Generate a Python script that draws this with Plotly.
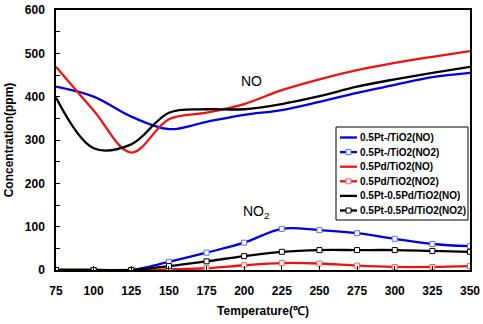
import plotly.graph_objects as go

# Temperature axis (deg C)
temperature = [75, 100, 125, 150, 175, 200, 225, 250, 275, 300, 325, 350]

# NO concentration (ppm)
pt_no = [423, 400, 354, 325, 342, 358, 369, 388, 409, 427, 445, 455]
pd_no = [469, 368, 271, 348, 363, 383, 415, 440, 461, 478, 492, 505]
ptpd_no = [398, 281, 290, 363, 371, 371, 383, 401, 423, 440, 455, 469]

# NO2 concentration (ppm)
pt_no2 = [0, 0, 0, 19, 40, 63, 95, 92, 85, 72, 60, 55]
pd_no2 = [0, 0, 0, 1.5, 4, 11, 16, 15, 10, 7, 7, 9]
ptpd_no2 = [0, 0, 0, 9, 20, 32, 42, 46, 46, 46, 44, 42]

names = ["0.5Pt-/TiO2(NO)", "0.5Pt-/TiO2(NO2)", "0.5Pd/TiO2(NO)",
         "0.5Pd/TiO2(NO2)", "0.5Pt-0.5Pd/TiO2(NO)", "0.5Pt-0.5Pd/TiO2(NO2)"]
values = [pt_no, pt_no2, pd_no, pd_no2, ptpd_no, ptpd_no2]
line_colors = ["#0000e0", "#0000e0", "#ee1111", "#ee1111", "#000000", "#000000"]
marker_colors = [None, "#5c6cff", None, "#ff5a5a", None, "#000000"]

FONT = "Arial, Liberation Sans, sans-serif"
W, H = 483, 324
ML, MR, MT, MB = 56, 13, 10, 54
PW, PH = W - ML - MR, H - MT - MB


def px_x(px):
    return (px - ML) / PW


def px_y(py):
    return (H - MB - py) / PH


fig = go.Figure()
for name, vals, lc, mc in zip(names, values, line_colors, marker_colors):
    fig.add_trace(go.Scatter(
        x=temperature, y=vals, name=name,
        mode="lines+markers" if mc else "lines",
        line=dict(color=lc, width=2.3, shape="spline", smoothing=1.0),
        marker=dict(symbol="square", size=5, color="white",
                    line=dict(width=1, color=mc)) if mc else None,
        showlegend=False,
    ))

fig.add_annotation(x=204.7, y=437, xref="x", yref="y", text="NO", showarrow=False,
                   font=dict(family=FONT, size=14, color="black"))
fig.add_annotation(x=208, y=134, xref="x", yref="y", text="NO<sub>2</sub>", showarrow=False,
                   font=dict(family=FONT, size=14, color="black"))

# Legend box drawn in paper space
shapes = [dict(type="rect", xref="paper", yref="paper",
               x0=px_x(336), x1=px_x(468), y0=px_y(220), y1=px_y(127),
               line=dict(color="black", width=1), fillcolor="white", layer="above")]
for i, (name, lc, mc) in enumerate(zip(names, line_colors, marker_colors)):
    yc = 137.5 + 14.6 * i
    shapes.append(dict(type="line", xref="paper", yref="paper",
                       x0=px_x(340), x1=px_x(357), y0=px_y(yc), y1=px_y(yc),
                       line=dict(color=lc, width=2.3), layer="above"))
    if mc:
        shapes.append(dict(type="rect", xref="paper", yref="paper",
                           x0=px_x(346), x1=px_x(351), y0=px_y(yc + 2.5), y1=px_y(yc - 2.5),
                           line=dict(color=mc, width=1), fillcolor="white", layer="above"))
    fig.add_annotation(x=px_x(358), y=px_y(yc), xref="paper", yref="paper",
                       text=name, showarrow=False, xanchor="left", yanchor="middle",
                       font=dict(family=FONT, size=10, color="black", weight="bold"))

axis_common = dict(
    showline=True, linecolor="black", linewidth=1.5, mirror=True, automargin=False,
    ticks="inside", ticklen=4, tickcolor="black", showgrid=False, zeroline=False,
    tickfont=dict(family=FONT, size=12, color="black", weight="bold"),
)

fig.update_layout(
    width=W, height=H,
    margin=dict(l=ML, r=MR, t=MT, b=MB),
    paper_bgcolor="white", plot_bgcolor="white",
    font=dict(family=FONT, color="black"),
    shapes=shapes,
    xaxis=dict(range=[75, 350], dtick=25, tick0=75, ticklabelstandoff=9,
               title=dict(text="Temperature(℃)", font=dict(family=FONT, size=12, weight="bold"), standoff=9),
               **axis_common),
    yaxis=dict(range=[0, 600], dtick=100, ticklabelstandoff=7,
               minor=dict(ticks="inside", dtick=50, ticklen=4, tickcolor="black"),
               title=dict(text="Concentration(ppm)", font=dict(family=FONT, size=12, weight="bold"), standoff=9),
               **axis_common),
    showlegend=False,
)

fig.write_html("out.html")
